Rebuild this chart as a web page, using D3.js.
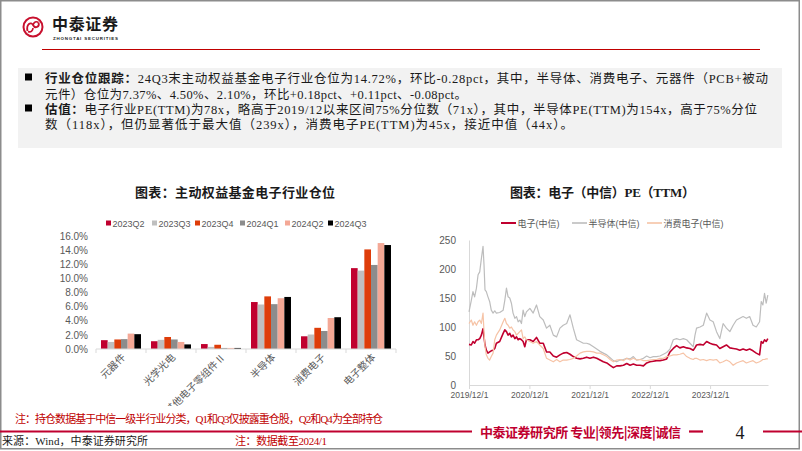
<!DOCTYPE html>
<html><head><meta charset="utf-8">
<script src="https://cdn.jsdelivr.net/npm/d3@7"></script>
<style>
body{margin:0;background:#fff}
svg{display:block}
text{font-family:"Liberation Sans","Noto Sans CJK SC",sans-serif}
.serif{font-family:"Liberation Serif","Noto Sans CJK SC",serif}
.cjk{font-family:"Noto Sans CJK SC",sans-serif}
</style>
</head><body>
<svg id="c" width="802" height="451"></svg>
<script>
// ---------------- data: left chart (holding %) ----------------
const categories = ["元器件","光学光电","其他电子零组件Ⅱ","半导体","消费电子","电子整体"];
const quarters = ["2023Q2","2023Q3","2023Q4","2024Q1","2024Q2","2024Q3"];
const hold2023Q2 = [1.25, 1.10, 0.70, 6.65, 1.80, 11.45];
const hold2023Q3 = [1.00, 1.30, 0.30, 6.30, 2.05, 11.10];
const hold2023Q4 = [1.35, 1.70, 0.60, 7.45, 3.00, 14.10];
const hold2024Q1 = [1.40, 1.35, 0.15, 6.35, 2.55, 11.90];
const hold2024Q2 = [2.18, 1.00, 0.15, 7.19, 4.39, 15.00];
const hold2024Q3 = [2.10, 0.65, 0.15, 7.37, 4.50, 14.72];
const holdTicks = [0, 2, 4, 6, 8, 10, 12, 14, 16];

// ---------------- data: right chart (PE TTM) ----------------
const peNames = ["电子(中信)", "半导体(中信)", "消费电子(中信)"];
const peDates = ["2019-12-01","2019-12-15","2019-12-25","2020-01-04","2020-01-15","2020-01-25","2020-02-04","2020-02-14","2020-02-24","2020-03-01","2020-03-07","2020-03-15","2020-03-25","2020-04-04","2020-04-14","2020-04-25","2020-05-05","2020-05-15","2020-06-04","2020-06-25","2020-07-05","2020-07-15","2020-07-25","2020-08-04","2020-08-14","2020-08-24","2020-09-04","2020-09-14","2020-09-24","2020-10-04","2020-10-14","2020-10-24","2020-11-03","2020-11-13","2020-12-04","2020-12-24",
"2021-01-13","2021-02-02","2021-02-23","2021-03-15","2021-04-04","2021-04-25","2021-05-15","2021-06-04","2021-06-24","2021-07-15","2021-08-04","2021-08-24","2021-09-13","2021-10-04","2021-10-24","2021-11-13","2021-12-03","2021-12-24",
"2022-01-13","2022-02-02","2022-02-22","2022-03-15","2022-04-04","2022-04-24","2022-05-14","2022-06-03","2022-06-24","2022-07-14","2022-08-03","2022-08-23","2022-09-12","2022-10-03","2022-10-23","2022-11-12","2022-12-02","2022-12-22",
"2023-01-11","2023-01-31","2023-02-21","2023-03-13","2023-04-02","2023-04-22","2023-05-12","2023-06-01","2023-06-22","2023-07-12","2023-08-01","2023-08-21","2023-08-31","2023-09-10","2023-10-01","2023-10-21","2023-11-10","2023-11-30","2023-12-20",
"2024-01-09","2024-01-29","2024-02-18","2024-03-09","2024-03-30","2024-04-19","2024-05-09","2024-05-29","2024-06-18","2024-07-08","2024-07-28","2024-08-17","2024-09-06","2024-09-26","2024-10-06","2024-10-16","2024-10-26","2024-11-05","2024-11-15"];
const peElec = [70,69,75,72,78,78,80,86,97,83, 69,60,55,57,59,60,63,72,75,89, 95,92,86,89,83,86,80,83,78,80, 78,75,66,78,78,75,
82,72,72,57,57,50,48,52,55,56,53,49,46,45,46,48,46,48,
46,43,40,38,34,30,33,33,34,37,34,36,34,34,33,38,40,41,
42,42,43,45,57,63,68,64,66,64,63,60,64,69,70,69,75,72,70,
69,63,66,69,64,63,62,60,62,60,62,59,55,52,75,72,78,75,80];
const peSemi = [126,146,161,152,167,190,195,218,239,207, 164,161,152,144,129,124,128,124,125,129, 146,167,152,150,141,124,115,118,109,112, 106,129,118,126,132,124,
138,118,112,98,103,86,83,98,103,106,121,98,78,75,72,72,70,66,
62,58,55,52,47,42,40,43,44,46,45,49,43,44,46,50,47,49,
49,50,53,56,62,78,80,78,80,78,72,66,85,98,100,103,124,112,109,
92,80,106,98,92,103,112,115,118,115,118,103,100,109,144,138,158,141,155];
const peCons = [106,112,103,109,103,109,112,106,124,92, 66,52,46,43,49,55,78,86,95,109, 115,106,103,98,100,95,92,86,89,92, 95,80,83,78,75,72,
75,69,63,46,43,40,44,40,43,43,44,46,50,55,57,58,58,57,
55,55,52,49,44,40,43,44,42,46,43,46,43,44,42,42,43,44,
44,46,46,49,50,52,52,53,55,49,46,44,46,46,43,44,42,44,43,
44,38,40,43,40,34,38,40,42,38,40,42,38,40,42,44,44,45,45];
const peTickDates = ["2019-12-01","2020-12-01","2021-12-01","2022-12-01","2023-12-01"];
const peYTicks = [0, 50, 100, 150, 200, 250];

// ---------------- text ----------------
const bodyLines = [
  {bullet:true, bold:"行业仓位跟踪：", text:"24Q3末主动权益基金电子行业仓位为14.72%，环比-0.28pct，其中，半导体、消费电子、元器件（PCB+被动", w:723},
  {bullet:false, bold:"", text:"元件）仓位为7.37%、4.50%、2.10%，环比+0.18pct、+0.11pct、-0.08pct。", w:422},
  {bullet:true, bold:"估值：", text:"电子行业PE(TTM)为78x，略高于2019/12以来区间75%分位数（71x），其中，半导体PE(TTM)为154x，高于75%分位", w:712},
  {bullet:false, bold:"", text:"数（118x），但仍显著低于最大值（239x），消费电子PE(TTM)为45x，接近中值（44x）。", w:528}
];

const svg = d3.select("#c");
const RED = "#C00000";

// frame
svg.append("rect").attr("x",0.75).attr("y",0.75).attr("width",798.5).attr("height",448)
  .attr("fill","none").attr("stroke","#8c8c8c").attr("stroke-width",1.5);

// ---------- header ----------
const logo = svg.append("g").attr("fill","none").attr("stroke","#C8102E").attr("stroke-width",2);
logo.append("circle").attr("cx",33).attr("cy",27).attr("r",9.5);
logo.append("path").attr("d","M27.5,31 C26,24 31,21.5 33,25 C35,29 40,27 38.5,22.5").attr("stroke-width",1.8);
logo.append("path").attr("d","M28,31.5 C31,33 33,30 33,28 M33,25 C34,22 36,21 38.5,22.5").attr("stroke-width",1.6);
svg.append("text").attr("class","cjk").attr("x",52).attr("y",30).attr("font-size",16).attr("font-weight",700)
  .attr("fill","#1a1a1a").attr("textLength",66).text("中泰证券");
svg.append("text").attr("x",53).attr("y",40).attr("font-size",4.4).attr("font-weight",700)
  .attr("fill","#1a1a1a").attr("textLength",65).text("ZHONGTAI SECURITIES");
svg.append("line").attr("x1",42).attr("x2",760).attr("y1",49.5).attr("y2",49.5)
  .attr("stroke",RED).attr("stroke-width",1.2);

// ---------- text box ----------
svg.append("rect").attr("x",18).attr("y",68).attr("width",764).attr("height",80).attr("fill","#f2f2f2");
const baselines = [83, 99, 114, 129];
bodyLines.forEach((l,i)=>{
  if (l.bullet) svg.append("rect").attr("x",25).attr("y",baselines[i]-9.5).attr("width",7).attr("height",7).attr("fill","#000");
  const t = svg.append("text").attr("class","serif").attr("x",45).attr("y",baselines[i])
    .attr("font-size",12.5).attr("fill","#1a1a1a")
    .attr("textLength",l.w).attr("lengthAdjust","spacing");
  if (l.bold) t.append("tspan").attr("font-weight",700).text(l.bold);
  t.append("tspan").text(l.text);
});

// ---------- chart titles ----------
svg.append("text").attr("class","serif").attr("x",135).attr("y",197).attr("font-size",13).attr("font-weight",700)
  .attr("fill","#1a1a1a").attr("textLength",200).text("图表：主动权益基金电子行业仓位");
svg.append("text").attr("class","serif").attr("x",510).attr("y",197).attr("font-size",13).attr("font-weight",700)
  .attr("fill","#1a1a1a").attr("textLength",185).text("图表：电子（中信）PE（TTM）");

// ---------- left chart ----------
const holdSeries = [hold2023Q2, hold2023Q3, hold2023Q4, hold2024Q1, hold2024Q2, hold2024Q3];
const holdColors = ["#C0002F","#BFBFBF","#DE3D0A","#8C8C8C","#F4A896","#000000"];
const x0 = d3.scaleBand().domain(categories).range([96,396]).paddingInner(0.2).paddingOuter(0.1);
const x1 = d3.scaleBand().domain(quarters).range([0, x0.bandwidth()]);
const yL = d3.scaleLinear().domain([0,16]).range([349,236]);

const lc = svg.append("g");
const yAx = lc.append("g").attr("transform","translate(88,0)")
  .call(d3.axisLeft(yL).tickValues(holdTicks).tickSize(0).tickPadding(0).tickFormat(d=>d.toFixed(1)+"%"));
yAx.select(".domain").remove();
yAx.selectAll("text").attr("font-size",10).attr("fill","#595959").attr("font-family","Liberation Sans, sans-serif");

const groups = lc.selectAll("g.grp").data(categories).join("g").attr("class","grp")
  .attr("transform",d=>`translate(${x0(d)},0)`);
groups.selectAll("rect").data((c,ci)=>quarters.map((q,qi)=>({q, v:holdSeries[qi][ci], color:holdColors[qi]})))
  .join("rect")
  .attr("x",d=>x1(d.q)).attr("width",x1.bandwidth())
  .attr("y",d=>yL(d.v)).attr("height",d=>yL(0)-yL(d.v)).attr("fill",d=>d.color);

const xAxL = lc.append("g").attr("transform","translate(0,349)");
xAxL.append("line").attr("x1",96).attr("x2",396).attr("stroke","#d9d9d9");
const bounds = d3.range(categories.length+1).map(i=>96 + i*x0.step());
xAxL.selectAll("line.tk").data(bounds).join("line").attr("class","tk")
  .attr("x1",d=>d).attr("x2",d=>d).attr("y1",0).attr("y2",4).attr("stroke","#d9d9d9");
const clip = svg.append("clipPath").attr("id","lclip");
clip.append("rect").attr("x",60).attr("y",340).attr("width",360).attr("height",66);
lc.append("g").attr("clip-path","url(#lclip)")
  .selectAll("text").data(categories).join("text")
  .attr("class","cjk")
  .attr("transform",d=>`translate(${x0(d)+x0.bandwidth()/2+5},358) rotate(-45)`)
  .attr("text-anchor","end").attr("font-size",10).attr("fill","#595959").text(d=>d);

const legL = lc.append("g");
const legX = [106,152,195,240,285,328];
quarters.forEach((q,i)=>{
  legL.append("rect").attr("x",legX[i]).attr("y",220.5).attr("width",5).attr("height",5).attr("fill",holdColors[i]);
  legL.append("text").attr("x",legX[i]+6.5).attr("y",226.5).attr("font-size",9).attr("fill","#595959").text(q);
});

// ---------- right chart ----------
const parse = d3.timeParse("%Y-%m-%d");
const dates = peDates.map(parse);
const xR = d3.scaleTime().domain([parse("2019-12-01"), parse("2024-11-16")]).range([469,768]);
const yR = d3.scaleLinear().domain([0,250]).range([385,240]);
const rc = svg.append("g");

const yAxR = rc.append("g").attr("transform","translate(469,0)")
  .call(d3.axisLeft(yR).tickValues(peYTicks).tickSize(0).tickPadding(13));
yAxR.select(".domain").attr("stroke","#d9d9d9");
yAxR.selectAll("text").attr("font-size",10).attr("fill","#595959").attr("font-family","Liberation Sans, sans-serif");

const xAxR = rc.append("g").attr("transform","translate(0,385)")
  .call(d3.axisBottom(xR).tickValues(peTickDates.map(parse)).tickSize(4).tickPadding(3)
    .tickFormat(d3.timeFormat("%Y/%-m/%-d")));
xAxR.select(".domain").attr("stroke","#d9d9d9").attr("d","M469.5,0.5H768.5");
xAxR.selectAll(".tick line").attr("stroke","#d9d9d9");
xAxR.selectAll("text").attr("font-size",8.5).attr("fill","#595959").attr("font-family","Liberation Sans, sans-serif");

const peSeries = [
  {name:peNames[0], vals:peElec, color:"#C0002F", w:1.6},
  {name:peNames[1], vals:peSemi, color:"#BDBDBD", w:1.2},
  {name:peNames[2], vals:peCons, color:"#F6C3A6", w:1.2}
];
const line = d3.line().x((d,i)=>xR(dates[i])).y(d=>yR(d));
peSeries.forEach(s=>{
  rc.append("path").attr("d",line(s.vals)).attr("fill","none")
    .attr("stroke",s.color).attr("stroke-width",s.w).attr("stroke-linejoin","round");
});
const legR = [501,572,647];
peSeries.forEach((s,i)=>{
  rc.append("line").attr("x1",legR[i]).attr("x2",legR[i]+15).attr("y1",223).attr("y2",223)
    .attr("stroke",s.color).attr("stroke-width",s.w+0.4);
  rc.append("text").attr("x",legR[i]+16.5).attr("y",226.5).attr("font-size",9).attr("fill","#595959").text(s.name);
});

// ---------- footer ----------
svg.append("text").attr("class","serif").attr("x",15).attr("y",423).attr("font-size",11).attr("fill",RED)
  .attr("textLength",368).text("注：持仓数据基于中信一级半行业分类，Q1和Q3仅披露重仓股，Q2和Q4为全部持仓");
svg.append("line").attr("x1",0).attr("x2",472).attr("y1",431.5).attr("y2",431.5).attr("stroke","#C0002F").attr("stroke-width",2.2);
svg.append("text").attr("class","cjk").attr("x",480).attr("y",436.5).attr("font-size",13).attr("font-weight",700)
  .attr("fill","#C0002F").attr("textLength",201).text("中泰证券研究所 专业|领先|深度|诚信");
svg.append("line").attr("x1",689).attr("x2",703).attr("y1",431.5).attr("y2",431.5).attr("stroke","#C0002F").attr("stroke-width",2.2);
svg.append("text").attr("class","serif").attr("x",740).attr("y",438.5).attr("text-anchor","middle").attr("font-size",18)
  .attr("fill","#1a1a1a").text("4");
svg.append("line").attr("x1",763).attr("x2",802).attr("y1",431.5).attr("y2",431.5).attr("stroke","#C0002F").attr("stroke-width",2.2);
svg.append("text").attr("class","serif").attr("x",2).attr("y",445).attr("font-size",11).attr("fill","#1a1a1a")
  .attr("textLength",146).text("来源：Wind，中泰证券研究所");
svg.append("text").attr("class","serif").attr("x",235).attr("y",445).attr("font-size",11).attr("fill",RED)
  .attr("textLength",92).text("注：数据截至2024/1");
</script>
</body></html>
